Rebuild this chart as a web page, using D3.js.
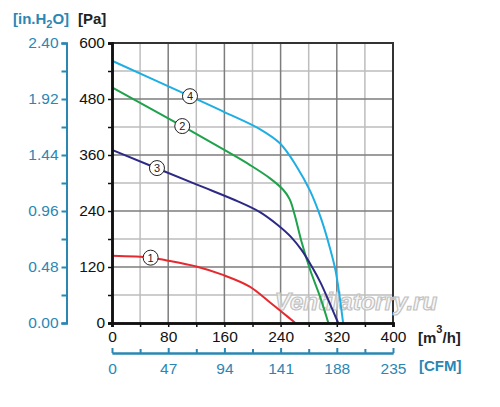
<!DOCTYPE html>
<html>
<head>
<meta charset="utf-8">
<script src="https://cdn.jsdelivr.net/npm/d3@7"></script>
<style>
  body { margin: 0; background: #fff; }
  svg text { font-family: "Liberation Sans", Arial, sans-serif; }
</style>
</head>
<body>
<div id="grafico"></div>
<script>
// curvas del ventilador: [m3/h, Pa]
const curva1 = [[0,144],[55,140],[78,134],[120,121],[158,103],[196,78],[225,44],[244,21],[261,0]];
const curva2 = [[0,505],[100,422],[168,364],[196,339],[225,310],[244,285],[253,265],[260,232],[270,173],[282,114],[296,57],[308,0]];
const curva3 = [[0,371],[120,297],[180,260],[210,238],[235,211],[255,184],[270,156],[284,122],[297,86],[310,42],[322,0]];
const curva4 = [[0,562],[111,486],[160,452],[211,415],[239,385],[263,335],[282,283],[298,222],[310,162],[318,114],[324,57],[329,0]];
const nombres = ["1", "2", "3", "4"];
// posicion de la etiqueta circular de cada curva [m3/h, Pa]
const etiquetas = [[55,140],[100,422],[64,332],[111,486]];

const ticksPa = [0, 120, 240, 360, 480, 600];
const ticksPaMenor = [60, 180, 300, 420, 540];
const ticksM3h = [0, 80, 160, 240, 320, 400];
const ticksM3hMenor = [40, 120, 200, 280, 360];
const ticksInH2O = [0, 0.48, 0.96, 1.44, 1.92, 2.40];
const ticksInH2OMenor = [0.24, 0.72, 1.20, 1.68, 2.16];
const ticksCFM = [0, 47, 94, 141, 188, 235];
const ticksCFMMenor = [23.5, 70.5, 117.5, 164.5, 211.5];

const colores = ["#e52a2f", "#1ea24b", "#2c2a86", "#1eaee4"];
const azulEje = "#2a87b4";
const negro = "#111";

const izq = 112, der = 393, arriba = 43, abajo = 323;

const x = d3.scaleLinear().domain([0, 400]).range([izq, der]);
const y = d3.scaleLinear().domain([0, 600]).range([abajo, arriba]);
const yIn = d3.scaleLinear().domain([0, 2.4]).range([abajo, arriba]);
const xCfm = d3.scaleLinear().domain([0, 235]).range([izq, der]);

const $svg = d3.select("#grafico").append("svg")
    .attr("width", 500).attr("height", 407);

// rejilla: primero las lineas claras, luego las oscuras
const rejilla = $svg.append("g");
const lineaV = (v, color) => rejilla.append("line")
    .attr("x1", x(v)).attr("x2", x(v)).attr("y1", arriba).attr("y2", abajo)
    .attr("stroke", color).attr("stroke-width", 1.5);
const lineaH = (v, color) => rejilla.append("line")
    .attr("x1", izq).attr("x2", der).attr("y1", y(v)).attr("y2", y(v))
    .attr("stroke", color).attr("stroke-width", 1.5);
ticksM3hMenor.forEach(v => lineaV(v, "#bdbdbd"));
ticksPaMenor.forEach(v => lineaH(v, "#bdbdbd"));
ticksM3h.slice(1, -1).forEach(v => lineaV(v, "#7d7d7d"));
ticksPa.slice(1, -1).forEach(v => lineaH(v, "#7d7d7d"));

// marco superior y derecho
$svg.append("path")
    .attr("d", `M${izq},${arriba}H${der}V${abajo}`)
    .attr("fill", "none").attr("stroke", "#333").attr("stroke-width", 2);

// marca de agua
$svg.append("text")
    .attr("x", 356).attr("y", 310)
    .attr("text-anchor", "middle")
    .attr("font-size", 24).attr("font-style", "italic").attr("font-weight", "bold")
    .attr("fill", "#f4f4f4").attr("fill-opacity", 0.7)
    .attr("stroke", "#c2c2c2").attr("stroke-width", 1.2)
    .text("Ventilatorry.ru");

// curvas
const linea = d3.line().x(d => x(d[0])).y(d => y(d[1])).curve(d3.curveCatmullRom.alpha(0.5));
[curva1, curva2, curva3, curva4].forEach((c, i) => {
    $svg.append("path")
        .attr("d", linea(c))
        .attr("fill", "none")
        .attr("stroke", colores[i])
        .attr("stroke-width", 2);
});

// etiquetas circulares
etiquetas.forEach((e, i) => {
    const g = $svg.append("g").attr("transform", `translate(${x(e[0])},${y(e[1])})`);
    g.append("circle").attr("r", 7.5).attr("fill", "#fff").attr("stroke", "#222").attr("stroke-width", 1);
    g.append("text").attr("text-anchor", "middle").attr("dy", "0.36em")
        .attr("font-size", 11).attr("fill", "#222").text(nombres[i]);
});

// da estilo a un eje ya dibujado
const estilo = (g, color, grosorDominio, grosorMarca) => {
    g.selectAll(".domain").attr("stroke", color).attr("stroke-width", grosorDominio);
    g.selectAll(".tick line").attr("stroke", color).attr("stroke-width", grosorMarca);
    g.selectAll(".tick text").attr("fill", color).attr("font-size", 15.5)
        .attr("font-family", "Liberation Sans, Arial, sans-serif");
};

// ejes negros
estilo($svg.append("g").attr("transform", `translate(${izq},0)`)
    .call(d3.axisLeft(y).tickValues(ticksPaMenor).tickSize(4).tickFormat("")), negro, 2.5, 1.5);
estilo($svg.append("g").attr("transform", `translate(${izq},0)`)
    .call(d3.axisLeft(y).tickValues(ticksPa).tickSize(4).tickPadding(3).tickFormat(d3.format("d"))), negro, 2.5, 1.5);
estilo($svg.append("g").attr("transform", `translate(0,${abajo})`)
    .call(d3.axisBottom(x).tickValues(ticksM3hMenor).tickSize(4).tickFormat("")), negro, 2.5, 1.5);
estilo($svg.append("g").attr("transform", `translate(0,${abajo})`)
    .call(d3.axisBottom(x).tickValues(ticksM3h).tickSize(4).tickPadding(4).tickFormat(d3.format("d"))), negro, 2.5, 1.5);

// ejes azules
estilo($svg.append("g").attr("transform", "translate(66.5,0)")
    .call(d3.axisLeft(yIn).tickValues(ticksInH2OMenor).tickSize(5).tickFormat("")), azulEje, 2, 2);
estilo($svg.append("g").attr("transform", "translate(66.5,0)")
    .call(d3.axisLeft(yIn).tickValues(ticksInH2O).tickSize(5).tickPadding(3).tickFormat(d3.format(".2f"))), azulEje, 2, 2);
estilo($svg.append("g").attr("transform", "translate(0,353)")
    .call(d3.axisBottom(xCfm).tickValues(ticksCFMMenor).tickSizeInner(-4).tickSizeOuter(0).tickFormat("")), azulEje, 2, 2);
estilo($svg.append("g").attr("transform", "translate(0,353)")
    .call(d3.axisBottom(xCfm).tickValues(ticksCFM).tickSizeInner(-5).tickSizeOuter(0).tickPadding(10).tickFormat(d3.format("d"))), azulEje, 2, 2);

// titulos de ejes
const inTitulo = $svg.append("text").attr("x", 13).attr("y", 24)
    .attr("font-size", 15).attr("font-weight", "bold").attr("fill", azulEje);
inTitulo.append("tspan").text("[in.H");
inTitulo.append("tspan").attr("font-size", 11).attr("dy", 4).text("2");
inTitulo.append("tspan").attr("dy", -4).text("O]");

$svg.append("text").attr("x", 78).attr("y", 24)
    .attr("font-size", 15).attr("font-weight", "bold").attr("fill", "#222").text("[Pa]");

const m3Titulo = $svg.append("text").attr("x", 418).attr("y", 343)
    .attr("font-size", 15).attr("font-weight", "bold").attr("fill", "#222");
m3Titulo.append("tspan").text("[m");
m3Titulo.append("tspan").attr("font-size", 11).attr("dy", -10).text("3");
m3Titulo.append("tspan").attr("dy", 10).text("/h]");

$svg.append("text").attr("x", 419).attr("y", 371)
    .attr("font-size", 15).attr("font-weight", "bold").attr("fill", azulEje).text("[CFM]");
</script>
</body>
</html>
